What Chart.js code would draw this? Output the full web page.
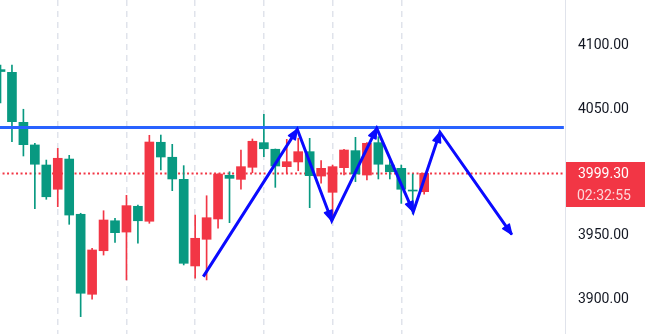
<!DOCTYPE html>
<html>
<head>
<meta charset="utf-8">
<script src="https://cdn.jsdelivr.net/npm/chart.js@4.4.1/dist/chart.umd.min.js"></script>
<style>
  html, body { margin: 0; padding: 0; background: #fff; }
  canvas { display: block; }
</style>
</head>
<body>
<canvas id="chart" width="645" height="334"></canvas>
<script>
// candles, oldest first (index = bar number)
const opens  = [4081, 4078.9, 4039.5, 4021.7, 4005.9, 3986.8, 4010.6, 3967.1, 3904.1, 3938.4,
                3962, 3953.1, 3973.4, 3961.6, 4023.8, 4012, 3994.6, 3926.4, 3947.4, 3963.4,
                3997.8, 3994.6, 4004.1, 4023.5, 4018.3, 4004.6, 4008.3, 4016.4, 3997.2, 3984.4,
                4003.8, 4017.2, 3998, 4023.5, 4005.9, 4003.3, 3986.2, 3984.9];
const highs  = [4084.6, 4084.6, 4049.8, 4023, 4009.8, 4019, 4013.5, 3967.9, 3940.3, 3969.9,
                3963.9, 3982, 3974.4, 4029.3, 4029.5, 4022.2, 4005.4, 3966.5, 3981.7, 3999,
                4000.6, 4017.7, 4026.4, 4045.8, 4018.5, 4026.1, 4027, 4026.9, 4009.3, 4005.9,
                4018.3, 4027.7, 4023.5, 4028.2, 4009.8, 4005.9, 3998.8, 3999.5];
const lows   = [4054.7, 4024.3, 4013, 3971.5, 3978.9, 3973.1, 3959.2, 3886.5, 3900.2, 3935,
                3945, 3915.4, 3944.3, 3960, 4002, 3985.7, 3927.2, 3916.7, 3915.4, 3956.1,
                3960.5, 3986.8, 3999.8, 4012.4, 3988.3, 3999.4, 4001.4, 3972.3, 3991.5, 3962.6,
                3998, 3992.8, 3994.1, 3994.9, 3994.9, 3975.7, 3967.3, 3983];
const closes = [4079.5, 4040, 4021.9, 4006.5, 3980.9, 4011.2, 3966.5, 3904.9, 3939, 3962.6,
                3952.6, 3973.9, 3962, 4024, 4012.2, 3994.9, 3928.5, 3948.2, 3964.4, 3998.8,
                3995.4, 4004.6, 4024.6, 4018.7, 4005.1, 4008.5, 4016.4, 3997.5, 4003.3, 4004.6,
                4017.7, 3998.8, 4023, 4006.5, 4000.6, 3986.8, 3985.4, 3999.3];

const tickValues = [3900, 3950, 4050, 4100];
const gridBars = [5, 11, 17, 23, 29, 35];
const resistance = 4035.5;
const lastPrice = 3999.3;
const countdown = '02:32:55';

// hand-drawn zigzag arrows (bar index, price)
const arrowX = [17.71, 25.92, 28.93, 32.86, 36.05, 38.38, 44.65];
const arrowY = [3918, 4034, 3962, 4034.8, 3969.1, 4031.7, 3951.2];

const UP = '#f23645';
const DOWN = '#089981';
const ARROW = '#0a0aff';

const idx = opens.map((_, i) => i);
const colors = idx.map(i => closes[i] >= opens[i] ? UP : DOWN);

const arrowHeads = {
  id: 'arrowHeads',
  afterDatasetsDraw(chart) {
    const pts = chart.getDatasetMeta(0).data;
    const ctx = chart.ctx;
    ctx.save();
    ctx.fillStyle = ARROW;
    ctx.strokeStyle = ARROW;
    ctx.lineWidth = 1.5;
    ctx.lineJoin = 'round';
    for (let i = 1; i < pts.length; i++) {
      const a = pts[i - 1], b = pts[i];
      const ang = Math.atan2(b.y - a.y, b.x - a.x);
      const len = 10, half = 4;
      const bx = b.x - len * Math.cos(ang), by = b.y - len * Math.sin(ang);
      const nx = -Math.sin(ang) * half, ny = Math.cos(ang) * half;
      ctx.beginPath();
      ctx.moveTo(b.x, b.y);
      ctx.lineTo(bx + nx, by + ny);
      ctx.lineTo(bx - nx, by - ny);
      ctx.closePath();
      ctx.fill();
      ctx.stroke();
    }
    ctx.restore();
  }
};

const priceTag = {
  id: 'priceTag',
  afterDraw(chart) {
    const { ctx, chartArea } = chart;
    const y = chart.scales.y.getPixelForValue(lastPrice);
    const x0 = chartArea.right + 1;
    ctx.save();
    ctx.fillStyle = UP;
    ctx.fillRect(x0, Math.round(y) - 11, chart.width - x0, 45);
    ctx.font = '14px Roboto';
    ctx.textAlign = 'left';
    ctx.textBaseline = 'middle';
    ctx.fillStyle = '#ffffff';
    ctx.fillText(lastPrice.toFixed(2), x0 + 12, y + 1);
    ctx.fillStyle = 'rgba(255,255,255,0.8)';
    ctx.fillText(countdown, x0 + 11, y + 23);
    ctx.restore();
  }
};

new Chart(document.getElementById('chart'), {
  type: 'bar',
  data: {
    datasets: [
      {
        type: 'line',
        data: arrowX.map((x, i) => ({ x, y: arrowY[i] })),
        borderColor: ARROW,
        borderWidth: 3,
        pointRadius: 0,
        tension: 0,
        order: 0,
        clip: 0,
      },
      {
        type: 'line',
        data: [{ x: -1, y: resistance }, { x: 49.2, y: resistance }],
        borderColor: '#2962ff',
        borderWidth: 3,
        pointRadius: 0,
        order: 1,
        clip: 0,
      },
      {
        data: idx.map(i => ({ x: i, y: [Math.min(opens[i], closes[i]), Math.max(opens[i], closes[i])] })),
        backgroundColor: colors,
        barThickness: 9,
        minBarLength: 1,
        grouped: false,
        order: 2,
      },
      {
        data: idx.map(i => ({ x: i, y: [lows[i], highs[i]] })),
        backgroundColor: colors,
        barThickness: 1,
        grouped: false,
        order: 3,
      },
      {
        type: 'line',
        data: [{ x: -1, y: lastPrice }, { x: 50, y: lastPrice }],
        borderColor: UP,
        borderWidth: 2,
        borderDash: [2, 2.5],
        pointRadius: 0,
        order: 4,
        clip: 0,
      },
    ],
  },
  options: {
    responsive: false,
    animation: false,
    events: [],
    layout: { padding: 0 },
    plugins: { legend: { display: false }, tooltip: { enabled: false } },
    scales: {
      x: {
        type: 'linear',
        offset: false,
        min: -0.044,
        max: 49.3,
        afterBuildTicks: s => { s.ticks = gridBars.map(v => ({ value: v })); },
        ticks: { display: false },
        grid: { color: '#e0e3eb', lineWidth: 1.5, drawTicks: false, offset: false },
        border: { display: false, dash: [6, 5] },
      },
      y: {
        position: 'right',
        min: 3872.83,
        max: 4135.83,
        afterBuildTicks: s => { s.ticks = tickValues.map(v => ({ value: v })); },
        afterFit: s => { s.width = 80; s.paddingTop = 0; s.paddingBottom = 0; },
        ticks: {
          padding: 13,
          color: '#131722',
          font: { family: 'Roboto', size: 14 },
          callback: v => v.toFixed(2),
        },
        grid: { display: false, drawTicks: false },
        border: { display: true, color: '#e0e3eb', width: 1 },
      },
    },
  },
  plugins: [arrowHeads, priceTag],
});
</script>
</body>
</html>
